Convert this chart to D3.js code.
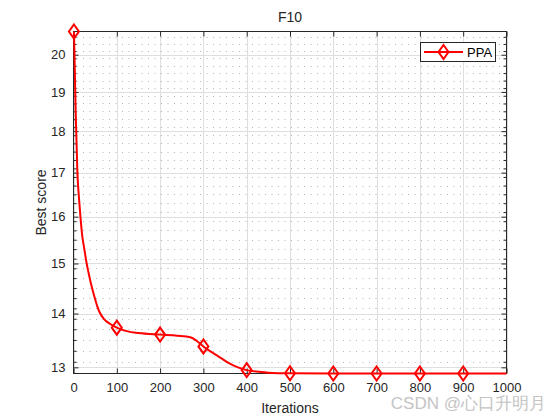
<!DOCTYPE html>
<html><head><meta charset="utf-8">
<script src="https://cdn.jsdelivr.net/npm/d3@7"></script>
<style>body{margin:0;background:#fff}text{font-family:"Liberation Sans",Arial,sans-serif}</style>
</head><body><svg id="c" width="560" height="420"></svg>
<script>
const title = "F10";
const seriesName = "PPA";
const iterations = [1,3,5,9,13,16,20,25,30,35,40,45,50,55,60,70,85,100,125,150,200,240,270,285,300,320,340,360,380,400,430,460,500,600,700,800,900,1000];
const bestScore  = [20.65,19.6,18.5,17.0,16.37,16.0,15.6,15.3,15.02,14.8,14.6,14.43,14.28,14.14,14.03,13.9,13.8,13.73,13.66,13.63,13.60,13.58,13.55,13.48,13.38,13.27,13.17,13.07,13.0,12.95,12.92,12.90,12.895,12.89,12.89,12.89,12.89,12.89];
const markerIters = [1,100,200,300,400,500,600,700,800,900];
const xTicks = [0,100,200,300,400,500,600,700,800,900,1000];
const yTicks = [13,14,15,16,17,18,19,20];
const yMinorTicks = d3.range(12.9,20.7,0.2).map(v=>+v.toFixed(1)).filter(v=>!yTicks.includes(v)&&v>=12.89&&v<=20.65);

(function(){
const svg = d3.select("#c");
const L=73.5,R=506.5,T=31.5,B=373.5;
const x = d3.scaleLinear().domain([0,1000]).range([L,R]);
const y = d3.scaleLog().domain([12.89,20.65]).range([B,T]);

const g = svg.append("g");
g.selectAll(".mg").data(yMinorTicks).join("line")
  .attr("x1",L+3).attr("x2",R).attr("y1",d=>Math.round(y(d))+0.5).attr("y2",d=>Math.round(y(d))+0.5)
  .attr("stroke","#b4b4b4").attr("stroke-width",1).attr("stroke-dasharray","1,5.5");
g.selectAll(".gy").data(yTicks).join("line")
  .attr("x1",L).attr("x2",R).attr("y1",d=>Math.round(y(d))+0.5).attr("y2",d=>Math.round(y(d))+0.5)
  .attr("stroke","#dedede").attr("stroke-width",1);
g.selectAll(".gx").data(xTicks).join("line")
  .attr("y1",T).attr("y2",B).attr("x1",d=>Math.round(x(d))+0.5).attr("x2",d=>Math.round(x(d))+0.5)
  .attr("stroke","#dedede").attr("stroke-width",1);

const ax = "#262626";
const axBottom = d3.axisBottom(x).tickValues(xTicks).tickFormat(d3.format("d")).tickSizeInner(-5).tickSizeOuter(0).tickPadding(9);
const axTop = d3.axisTop(x).tickValues(xTicks).tickSizeInner(-5).tickSizeOuter(0).tickFormat("");
const axLeft = d3.axisLeft(y).tickValues(yTicks).tickFormat(d3.format("d")).tickSizeInner(-5).tickSizeOuter(0).tickPadding(8);
const axRight = d3.axisRight(y).tickValues(yTicks).tickFormat("").tickSizeInner(-5).tickSizeOuter(0);
const axLeftMinor = d3.axisLeft(y).tickValues(yMinorTicks).tickFormat("").tickSizeInner(-3).tickSizeOuter(0);
const axRightMinor = d3.axisRight(y).tickValues(yMinorTicks).tickFormat("").tickSizeInner(-3).tickSizeOuter(0);
function style(sel){sel.selectAll("path,line").attr("stroke",ax);sel.selectAll("text").attr("fill",ax).attr("font-size",13).attr("font-family","Liberation Sans, Arial, sans-serif");sel.select("path").attr("stroke","none");}
svg.append("g").attr("transform",`translate(0,${B})`).call(axBottom).call(style);
svg.append("g").attr("transform",`translate(0,${T})`).call(axTop).call(style);
svg.append("g").attr("transform",`translate(${L},0)`).call(axLeft).call(style);
svg.append("g").attr("transform",`translate(${R},0)`).call(axRight).call(style);
svg.append("g").attr("transform",`translate(${L},0)`).call(axLeftMinor).call(style);
svg.append("g").attr("transform",`translate(${R},0)`).call(axRightMinor).call(style);
svg.append("rect").attr("x",L).attr("y",T).attr("width",R-L).attr("height",B-T).attr("fill","none").attr("stroke",ax).attr("stroke-width",1);

const pts = iterations.map((it,i)=>({it,v:bestScore[i]}));
const line = d3.line().x(d=>x(d.it)).y(d=>y(d.v)).curve(d3.curveMonotoneX);
svg.append("path").datum(pts).attr("d",line).attr("fill","none").attr("stroke","#ff0000").attr("stroke-width",2);
const diamond = (cx,cy)=>`M${cx},${cy-7}L${cx+5},${cy}L${cx},${cy+7}L${cx-5},${cy}Z`;
svg.selectAll(".mk").data(pts.filter(d=>markerIters.includes(d.it))).join("path")
  .attr("d",d=>diamond(x(d.it),y(d.v))).attr("fill","none").attr("stroke","#ff0000").attr("stroke-width",2);

svg.append("text").attr("x",(L+R)/2).attr("y",22).attr("text-anchor","middle").attr("font-size",14).attr("fill","#262626").text(title);
svg.append("text").attr("x",(L+R)/2).attr("y",413).attr("text-anchor","middle").attr("font-size",14).attr("fill","#262626").text("Iterations");
svg.append("text").attr("transform",`translate(46,${(T+B)/2}) rotate(-90)`).attr("text-anchor","middle").attr("font-size",14).attr("fill","#262626").text("Best score");

const lg = svg.append("g");
lg.append("rect").attr("x",420.5).attr("y",42.5).attr("width",75).attr("height",19).attr("fill","#fff").attr("stroke",ax);
lg.append("line").attr("x1",424).attr("x2",463).attr("y1",52).attr("y2",52).attr("stroke","#ff0000").attr("stroke-width",2);
lg.append("path").attr("d",diamond(443.5,52)).attr("fill","none").attr("stroke","#ff0000").attr("stroke-width",2);
lg.append("text").attr("x",467).attr("y",57).attr("font-size",13).attr("fill","#000").text(seriesName);

svg.append("text").attr("x",546).attr("y",409).attr("text-anchor","end").attr("font-size",17)
  .attr("font-family","Liberation Sans, 'Noto Sans CJK SC', sans-serif").attr("fill","#c4c4c4").text("CSDN @心口升明月");
})();
</script></body></html>
